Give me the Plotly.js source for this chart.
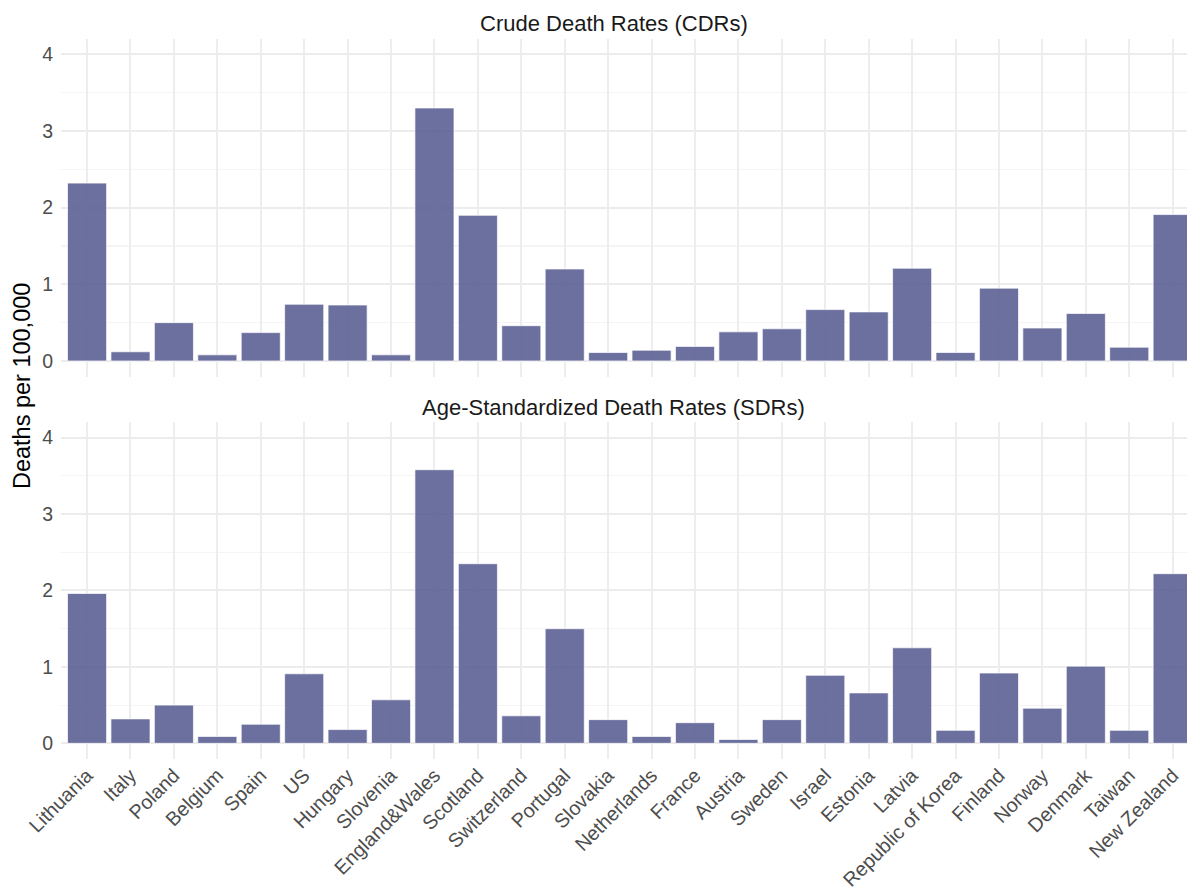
<!DOCTYPE html>
<html>
<head>
<meta charset="utf-8">
<script src="https://cdn.plot.ly/plotly-3.0.1.min.js"></script>
<style>
  html, body { margin: 0; padding: 0; background: #ffffff; }
  #chart { width: 1187px; height: 891px; }
</style>
</head>
<body>
<div id="chart"></div>
<script>
const countries = ["Lithuania","Italy","Poland","Belgium","Spain","US","Hungary","Slovenia","England&Wales","Scotland","Switzerland","Portugal","Slovakia","Netherlands","France","Austria","Sweden","Israel","Estonia","Latvia","Republic of Korea","Finland","Norway","Denmark","Taiwan","New Zealand"];
const cdrValues = [2.32,0.12,0.50,0.08,0.37,0.74,0.73,0.08,3.30,1.90,0.46,1.20,0.11,0.14,0.19,0.38,0.42,0.67,0.64,1.21,0.11,0.95,0.43,0.62,0.18,1.91];
const sdrValues = [1.96,0.32,0.50,0.09,0.25,0.91,0.18,0.57,3.58,2.35,0.36,1.50,0.31,0.09,0.27,0.05,0.31,0.89,0.66,1.25,0.17,0.92,0.46,1.01,0.17,2.22];
const panelTitles = ["Crude Death Rates (CDRs)", "Age-Standardized Death Rates (SDRs)"];
const yTitle = "Deaths per 100,000";

const barColor = "rgba(92,96,147,0.9)";
const barLine = {color: "rgba(255,255,255,0.7)", width: 1};
const font = "Liberation Sans, Arial, Helvetica, sans-serif";

const traces = [
  {type: "bar", x: countries, y: cdrValues, xaxis: "x2", yaxis: "y2",
   marker: {color: barColor, line: barLine}, hoverinfo: "x+y", showlegend: false},
  {type: "bar", x: countries, y: sdrValues, xaxis: "x", yaxis: "y",
   marker: {color: barColor, line: barLine}, hoverinfo: "x+y", showlegend: false}
];

const yCommon = {
  range: [-0.205, 4.2], tick0: 0, dtick: 1, zeroline: false,
  showgrid: true, gridcolor: "#ececec", gridwidth: 2,
  minor: {dtick: 0.5, showgrid: true, gridcolor: "#f4f4f4", gridwidth: 1.2},
  ticks: "", ticklabelstandoff: 7,
  tickfont: {family: font, size: 19.5, color: "#4d4d4d"},
  showline: false, fixedrange: true
};
const xCommon = {
  type: "category", categoryorder: "array", categoryarray: countries,
  range: [-0.6, 25.33], showgrid: true, gridcolor: "#ededed", gridwidth: 2,
  zeroline: false, showline: false, ticks: "", fixedrange: true
};

const layout = {
  width: 1187, height: 891,
  margin: {l: 61, r: 0, t: 39, b: 132},
  paper_bgcolor: "#ffffff", plot_bgcolor: "#ffffff",
  bargap: 0.1,
  font: {family: font},
  xaxis: Object.assign({}, xCommon, {anchor: "y", domain: [0, 1], tickangle: -45,
    tickfont: {family: font, size: 19.8, color: "#4d4d4d"}}),
  xaxis2: Object.assign({}, xCommon, {anchor: "y2", domain: [0, 1], showticklabels: false, matches: "x"}),
  yaxis: Object.assign({}, yCommon, {anchor: "x", domain: [0, 0.4676]}),
  yaxis2: Object.assign({}, yCommon, {anchor: "x2", domain: [0.531, 1]}),
  annotations: [
    {text: panelTitles[0], xref: "paper", yref: "paper", x: 0.491, y: 1.022,
     xanchor: "center", yanchor: "middle", showarrow: false,
     font: {family: font, size: 22, color: "#1a1a1a"}},
    {text: panelTitles[1], xref: "paper", yref: "paper", x: 0.491, y: 0.4875,
     xanchor: "center", yanchor: "middle", showarrow: false,
     font: {family: font, size: 22, color: "#1a1a1a"}},
    {text: yTitle, xref: "paper", yref: "paper", x: -0.0346, y: 0.518,
     xanchor: "center", yanchor: "middle", showarrow: false, textangle: -90,
     font: {family: font, size: 23.5, color: "#000000"}}
  ]
};

Plotly.newPlot("chart", traces, layout, {displayModeBar: false, staticPlot: true});
</script>
</body>
</html>
